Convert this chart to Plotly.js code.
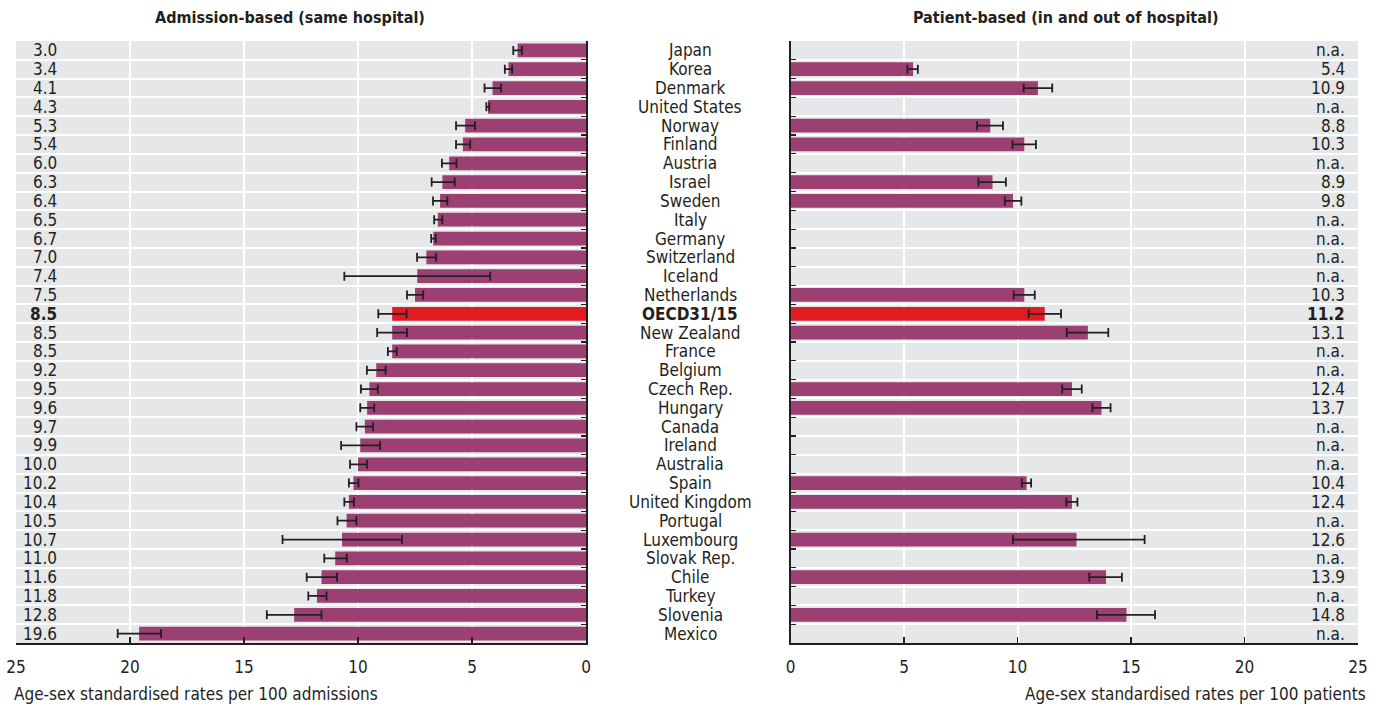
<!DOCTYPE html>
<html><head><meta charset="utf-8">
<script src="https://cdn.plot.ly/plotly-3.0.1.min.js"></script>
<style>html,body{margin:0;padding:0;background:#fff}#chart{width:1384px;height:707px}</style>
</head><body><div id="chart"></div>
<script>
const countries = ["Japan","Korea","Denmark","United States","Norway","Finland","Austria","Israel","Sweden","Italy","Germany","Switzerland","Iceland","Netherlands","OECD31/15","New Zealand","France","Belgium","Czech Rep.","Hungary","Canada","Ireland","Australia","Spain","United Kingdom","Portugal","Luxembourg","Slovak Rep.","Chile","Turkey","Slovenia","Mexico"];
const highlight = "OECD31/15";
// Admission-based (same hospital)
const admission = [3.0,3.4,4.1,4.3,5.3,5.4,6.0,6.3,6.4,6.5,6.7,7.0,7.4,7.5,8.5,8.5,8.5,9.2,9.5,9.6,9.7,9.9,10.0,10.2,10.4,10.5,10.7,11.0,11.6,11.8,12.8,19.6];
const admissionLow = [2.81,3.24,3.73,4.24,4.87,5.08,5.68,5.76,6.08,6.30,6.59,6.57,4.2,7.14,7.87,7.85,8.30,8.79,9.13,9.29,9.34,9.03,9.61,9.98,10.18,10.07,8.07,10.49,10.92,11.38,11.6,18.64];
const admissionHigh = [3.19,3.56,4.45,4.37,5.70,5.70,6.32,6.77,6.71,6.66,6.79,7.41,10.6,7.85,9.11,9.16,8.69,9.61,9.87,9.90,10.07,10.74,10.35,10.40,10.60,10.90,13.31,11.48,12.25,12.18,14.0,20.54];
// Patient-based (in and out of hospital); null = n.a.
const patient = [null,5.4,10.9,null,8.8,10.3,null,8.9,9.8,null,null,null,null,10.3,11.2,13.1,null,null,12.4,13.7,null,null,null,10.4,12.4,null,12.6,null,13.9,null,14.8,null];
const patientLow = [null,5.15,10.27,null,8.22,9.78,null,8.28,9.44,null,null,null,null,9.83,10.49,12.17,null,null,11.97,13.3,null,null,null,10.19,12.15,null,9.8,null,13.16,null,13.5,null];
const patientHigh = [null,5.61,11.53,null,9.36,10.81,null,9.49,10.17,null,null,null,null,10.76,11.92,14.0,null,null,12.83,14.1,null,null,null,10.6,12.64,null,15.6,null,14.6,null,16.06,null];
const xTicks = [0,5,10,15,20,25];

const W = 1384, H = 707;
const FONT = "'Liberation Sans Narrow','Arial Narrow','DejaVu Sans Condensed',sans-serif";
const TXT = "#231f20";
const PURPLE = "#9c3f72", RED = "#e01b22";
const colors = countries.map(c => c === highlight ? RED : PURPLE);

function errs(v, lo, hi) {
  return {
    plus: v.map((d,i) => d == null ? null : +(hi[i]-d).toFixed(3)),
    minus: v.map((d,i) => d == null ? null : +(d-lo[i]).toFixed(3))
  };
}
const eA = errs(admission, admissionLow, admissionHigh);
const eP = errs(patient, patientLow, patientHigh);
const errStyle = {type:'data', symmetric:false, color:'#231f20', thickness:1.8, width:4.5};

const traces = [
  {type:'bar', orientation:'h', y:countries, x:admission, xaxis:'x', yaxis:'y',
   marker:{color:colors}, error_x:Object.assign({array:eA.plus, arrayminus:eA.minus}, errStyle),
   hoverinfo:'x+y', showlegend:false},
  {type:'bar', orientation:'h', y:countries, x:patient, xaxis:'x2', yaxis:'y2',
   marker:{color:colors}, error_x:Object.assign({array:eP.plus, arrayminus:eP.minus}, errStyle),
   hoverinfo:'x+y', showlegend:false}
];

const yTop = (H-41)/H, yBot = (H-643)/H;
const xAxisCommon = {
  tickvals:xTicks, showgrid:true, gridcolor:'#ffffff', gridwidth:2,
  zeroline:false, showline:true, linecolor:'#231f20', linewidth:1.5,
  ticks:'inside', ticklen:6, tickcolor:'#231f20', tickwidth:1.2,
  tickfont:{family:FONT, size:17, color:TXT}, fixedrange:true, ticklabelstandoff:8
};
const yAxisCommon = {
  type:'category', categoryorder:'array', categoryarray:countries,
  range:[countries.length-0.5, -0.5], showticklabels:false,
  showgrid:true, gridcolor:'#ffffff', gridwidth:2, tickson:'boundaries',
  showline:true, linecolor:'#231f20', linewidth:1.5,
  ticks:'inside', ticklen:5, tickcolor:'#231f20', tickwidth:1.2,
  domain:[yBot, yTop], fixedrange:true, zeroline:false
};

const annotations = [];
countries.forEach((c,i) => {
  const bold = c === highlight;
  annotations.push({xref:'paper', yref:'y', x:690/W, y:c, text: bold ? '<b>'+c+'</b>' : c,
    showarrow:false, xanchor:'center', yanchor:'middle', font:{family:FONT, size:17, color:TXT}});
  const a = admission[i].toFixed(1);
  annotations.push({xref:'paper', yref:'y', x:59/W, y:c, text: bold ? '<b>'+a+'</b>' : a,
    showarrow:false, xanchor:'right', yanchor:'middle', font:{family:FONT, size:17, color:TXT}});
  const p = patient[i] == null ? 'n.a.' : patient[i].toFixed(1);
  annotations.push({xref:'paper', yref:'y', x:1347/W, y:c, text: bold ? '<b>'+p+'</b>' : p,
    showarrow:false, xanchor:'right', yanchor:'middle', font:{family:FONT, size:17, color:TXT}});
});
annotations.push({xref:'paper', yref:'paper', x:290/W, y:(H-18)/H, text:'<b>Admission-based (same hospital)</b>',
  showarrow:false, xanchor:'center', yanchor:'middle', font:{family:FONT, size:16, color:TXT}});
annotations.push({xref:'paper', yref:'paper', x:1065/W, y:(H-18)/H, text:'<b>Patient-based (in and out of hospital)</b>',
  showarrow:false, xanchor:'center', yanchor:'middle', font:{family:FONT, size:16, color:TXT}});
annotations.push({xref:'paper', yref:'paper', x:12/W, y:(H-694)/H, text:'Age-sex standardised rates per 100 admissions',
  showarrow:false, xanchor:'left', yanchor:'middle', font:{family:FONT, size:17, color:TXT}});
annotations.push({xref:'paper', yref:'paper', x:1368/W, y:(H-694)/H, text:'Age-sex standardised rates per 100 patients',
  showarrow:false, xanchor:'right', yanchor:'middle', font:{family:FONT, size:17, color:TXT}});

const layout = {
  width:W, height:H, margin:{l:0,r:0,t:0,b:0}, paper_bgcolor:'#ffffff', plot_bgcolor:'#e6e7e8',
  bargap:0.27, showlegend:false,
  xaxis:Object.assign({}, xAxisCommon, {domain:[16/W, 586/W], range:[25,0], anchor:'y'}),
  xaxis2:Object.assign({}, xAxisCommon, {domain:[790.5/W, 1358/W], range:[0,25], anchor:'y2'}),
  yaxis:Object.assign({}, yAxisCommon, {anchor:'x', side:'right'}),
  yaxis2:Object.assign({}, yAxisCommon, {anchor:'x2', side:'left'}),
  annotations:annotations
};
Plotly.newPlot('chart', traces, layout, {displayModeBar:false, staticPlot:true});
</script></body></html>
